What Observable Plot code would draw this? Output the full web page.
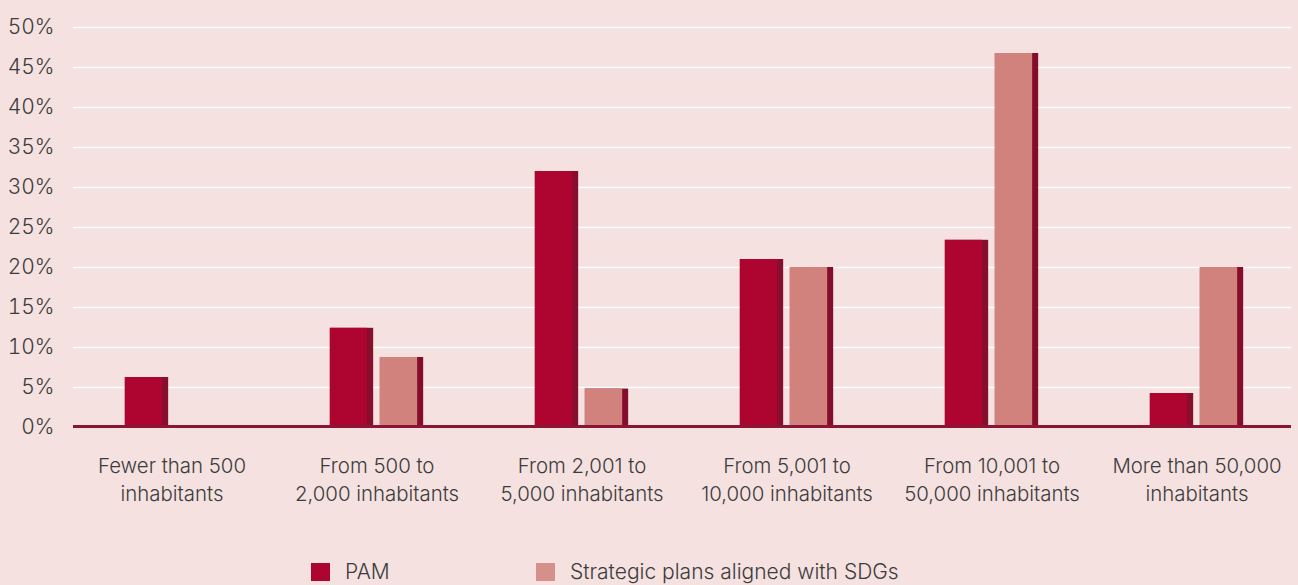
<!DOCTYPE html>
<html>
<head>
<meta charset="utf-8">
<script src="https://cdn.jsdelivr.net/npm/d3@7"></script>
<script src="https://cdn.jsdelivr.net/npm/@observablehq/plot@0.6"></script>
<style>
  html, body { margin: 0; padding: 0; background: #f4e1e0; }
  body { width: 1298px; height: 585px; position: relative; overflow: hidden; font-family: Inter, "Noto Sans", sans-serif; font-weight: 300; color: #3c3c3c; }
  #chart svg { display: block; overflow: visible; }
  .legend { position: absolute; top: 559px; left: 0; width: 1298px; height: 26px; font-size: 21px; }
  .legend .item { position: absolute; top: 0; display: flex; align-items: center; }
  .legend .sw { width: 19px; height: 18px; margin-right: 15px; }
</style>
</head>
<body>
<div id="chart"></div>
<div class="legend">
  <div class="item" style="left:311px"><span class="sw" style="background:#ad0530"></span><span>PAM</span></div>
  <div class="item" style="left:536px"><span class="sw" style="background:#d6908b"></span><span>Strategic plans aligned with SDGs</span></div>
</div>
<script>
const categories = [
  "Fewer than 500\ninhabitants",
  "From 500 to\n2,000 inhabitants",
  "From 2,001 to\n5,000 inhabitants",
  "From 5,001 to\n10,000 inhabitants",
  "From 10,001 to\n50,000 inhabitants",
  "More than 50,000\ninhabitants"
];
const pamValues = [6.25, 12.4, 32.0, 21.0, 23.4, 4.25];
const sdgValues = [0, 8.75, 4.8, 20.0, 46.75, 20.0];
const yTicks = [0, 5, 10, 15, 20, 25, 30, 35, 40, 45, 50];
const gridTicks = [5, 10, 15, 20, 25, 30, 35, 40, 45, 50];

const pam = categories.map((c, i) => ({category: c, value: pamValues[i]}));
const sdg = categories.map((c, i) => ({category: c, value: sdgValues[i]})).filter(d => d.value > 0);

const W = 1298, ML = 67, MR = -3;
const half = (W - ML - MR) / categories.length / 2;
const barW = 44, side = 6, gap = 3;

const chart = Plot.plot({
  width: W,
  height: 545,
  marginLeft: ML,
  marginRight: MR,
  marginTop: 27,
  marginBottom: 118,
  style: {background: "transparent", fontFamily: "Inter, 'Noto Sans', sans-serif", fontSize: "20px", fontWeight: 300, color: "#3c3c3c", overflow: "visible"},
  x: {domain: categories, padding: 0, axis: null, label: null},
  y: {domain: [0, 50], axis: null, label: null},
  marks: [
    Plot.ruleY(gridTicks, {stroke: "#ffffff", strokeWidth: 1.6, insetLeft: 6, insetRight: 10}),
    // PAM bars: side (dark) then face
    Plot.barY(pam, {x: "category", y: "value", fill: "#870f2d", insetLeft: half - gap - barW, insetRight: half + gap}),
    Plot.barY(pam, {x: "category", y: "value", fill: "#ad0530", insetLeft: half - gap - barW, insetRight: half + gap + side}),
    // SDG bars
    Plot.barY(sdg, {x: "category", y: "value", fill: "#850d2c", insetLeft: half + gap, insetRight: half - gap - barW}),
    Plot.barY(sdg, {x: "category", y: "value", fill: "#d2827c", insetLeft: half + gap, insetRight: half - gap - barW + side}),
    Plot.ruleY([0], {stroke: "#8b1535", strokeWidth: 3, dy: -1, insetLeft: 6, insetRight: 10}),
    Plot.axisY(yTicks, {tickSize: 0, tickPadding: 13, tickFormat: d => d + "%", fontSize: 21, fill: "#3c3c3c", label: null}),
    Plot.axisX({tickSize: 0, tickPadding: 26, lineHeight: 1.35, fontSize: 20.4, fill: "#3c3c3c", label: null})
  ]
});
document.getElementById("chart").appendChild(chart);
</script>
</body>
</html>
